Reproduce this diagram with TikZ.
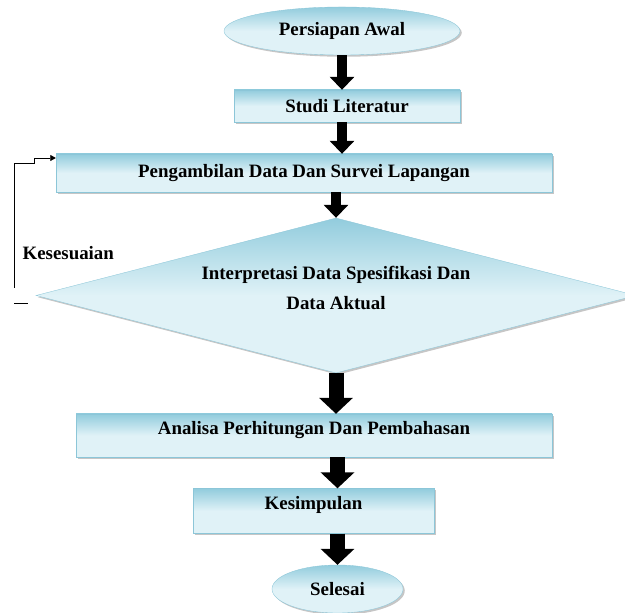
\documentclass[tikz,border=0pt]{standalone}
\usepackage{fontspec}
\setmainfont{Liberation Serif}
\usetikzlibrary{arrows.meta,shapes.geometric,shadows}
\definecolor{fcdark}{RGB}{146,204,221}
\definecolor{fclight}{RGB}{224,242,247}
\definecolor{fcedge}{RGB}{140,198,216}

\begin{document}
\begin{tikzpicture}[
    every node/.style={font=\fontsize{21.5}{34}\selectfont\bfseries},
    fcfill/.style={draw=fcedge,line width=0.4pt,top color=fcdark,bottom color=fclight,middle color=fclight,
      drop shadow={shadow xshift=0.07cm,shadow yshift=-0.07cm,opacity=0.45,fill=gray}},
    terminal/.style={fcfill,ellipse,inner sep=0pt},
    process/.style={fcfill,rectangle,inner sep=0pt},
    decision/.style={fcfill,diamond,inner sep=0pt,align=center,shape aspect=3.87},
    bigarrow/.style={line width=0.4cm,-{Triangle[width=0.96cm,length=0.52cm]}},
    hugearrow/.style={line width=0.6cm,-{Triangle[width=1.32cm,length=0.64cm]}},
    backline/.style={line width=0.7pt,-{Triangle[width=0.24cm,length=0.22cm]}}]
      \clip (0,0) rectangle (25,24.52);
      % Start
      \node[terminal,minimum width=9.44cm,minimum height=1.92cm] (start) at (13.68,23.28) {Persiapan Awal};
      \node[process,minimum width=9.04cm,minimum height=1.28cm] (studi) at (13.88,20.28) {Studi Literatur};
      \node[process,minimum width=19.84cm,minimum height=1.52cm] (ambil) at (12.16,17.6) {Pengambilan Data Dan Survei Lapangan};
      % Decision
      \node[decision,minimum width=24cm,minimum height=6.2cm,text depth=0.6cm] (dec) at (13.44,12.7)
        {Interpretasi Data Spesifikasi Dan\\Data Aktual};
      \node[process,minimum width=19.04cm,minimum height=1.72cm,text depth=0.6cm] (analisa) at (12.56,7.1) {Analisa Perhitungan Dan Pembahasan};
      \node[process,minimum width=9.64cm,minimum height=1.8cm,text depth=0.62cm] (kesim) at (12.54,4.08) {Kesimpulan};
      % End
      \node[terminal,minimum width=5.24cm,minimum height=1.92cm] (selesai) at (13.5,0.96) {Selesai};
      % Arrows
      \draw[bigarrow] (start.south) -- (start.south |- studi.north);
      \draw[bigarrow] (studi.south -| start.south) -- (ambil.north -| start.south);
      \draw[bigarrow] (ambil.south -| dec.north) -- (dec.north);
      \draw[hugearrow] (dec.south) -- (dec.south |- analisa.north);
      \draw[hugearrow] (analisa.south -| selesai.north) -- (kesim.north -| selesai.north);
      \draw[hugearrow] (kesim.south -| selesai.north) -- (selesai.north);
      % Feedback
      \coordinate (fb) at (0.56,13.0);
      \coordinate (fbtop) at (1.36,18.2);
      \coordinate (dashl) at (0.56,12.4);
      \coordinate (dashr) at (1.12,12.4);
      \draw[backline] (fb) |- (1.36,18.0) -- (fbtop) -- (fbtop -| ambil.west);
      \draw[line width=0.7pt] (dashl) -- (dashr);
      \node[anchor=west] (sesuai) at (0.78,14.4) {Kesesuaian};
    \end{tikzpicture}
\end{document}
